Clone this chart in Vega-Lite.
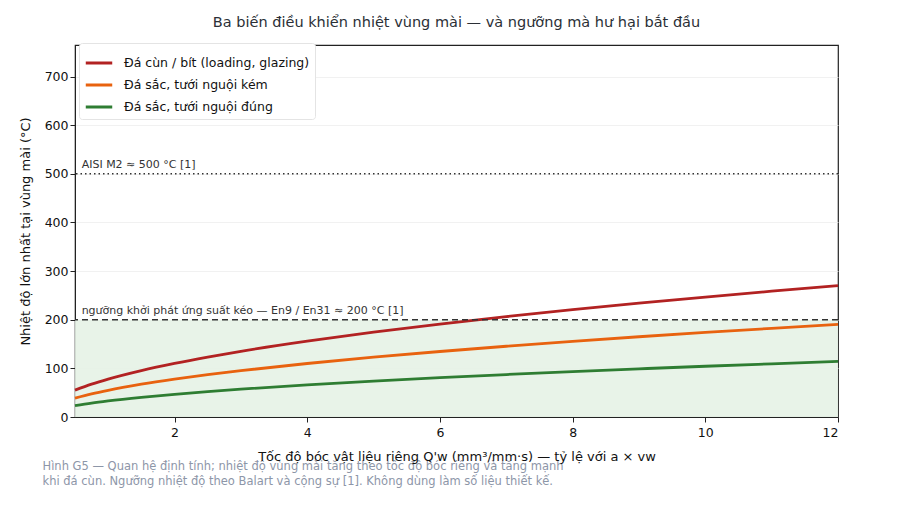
{
  "$schema": "https://vega.github.io/schema/vega-lite/v6.json",
  "autosize": "none",
  "width": 763,
  "height": 372,
  "padding": {"left": 75, "top": 45, "right": 69, "bottom": 93},
  "background": "white",
  "config": {
    "font": "DejaVu Sans",
    "view": {"stroke": "#222", "strokeWidth": 1.2},
    "axis": {"labelFont": "DejaVu Sans", "titleFont": "DejaVu Sans", "labelColor": "#111", "titleColor": "#111", "labelFontSize": 12.5, "titleFontSize": 13, "titleFontWeight": "normal", "tickColor": "#222", "domainColor": "#222", "gridColor": "#eeeeee", "gridWidth": 0.8}
  },
  "title": {"text": "Ba biến điều khiển nhiệt vùng mài — và ngưỡng mà hư hại bắt đầu", "fontSize": 14.5, "fontWeight": "normal", "color": "#2b2f36", "offset": 12, "anchor": "middle"},
  "datasets": {
    "curves": [
      {"q": 0.5, "t": 55.2, "s": "Đá cùn / bít (loading, glazing)"},
      {"q": 0.75, "t": 67.5, "s": "Đá cùn / bít (loading, glazing)"},
      {"q": 1, "t": 78, "s": "Đá cùn / bít (loading, glazing)"},
      {"q": 1.5, "t": 95.5, "s": "Đá cùn / bít (loading, glazing)"},
      {"q": 2, "t": 110.3, "s": "Đá cùn / bít (loading, glazing)"},
      {"q": 2.5, "t": 123.3, "s": "Đá cùn / bít (loading, glazing)"},
      {"q": 3, "t": 135.1, "s": "Đá cùn / bít (loading, glazing)"},
      {"q": 4, "t": 156, "s": "Đá cùn / bít (loading, glazing)"},
      {"q": 5, "t": 174.4, "s": "Đá cùn / bít (loading, glazing)"},
      {"q": 6, "t": 191.1, "s": "Đá cùn / bít (loading, glazing)"},
      {"q": 7, "t": 206.4, "s": "Đá cùn / bít (loading, glazing)"},
      {"q": 8, "t": 220.6, "s": "Đá cùn / bít (loading, glazing)"},
      {"q": 9, "t": 234, "s": "Đá cùn / bít (loading, glazing)"},
      {"q": 10, "t": 246.7, "s": "Đá cùn / bít (loading, glazing)"},
      {"q": 11, "t": 258.7, "s": "Đá cùn / bít (loading, glazing)"},
      {"q": 12, "t": 270.2, "s": "Đá cùn / bít (loading, glazing)"},
      {"q": 0.5, "t": 38.9, "s": "Đá sắc, tưới nguội kém"},
      {"q": 0.75, "t": 47.6, "s": "Đá sắc, tưới nguội kém"},
      {"q": 1, "t": 55, "s": "Đá sắc, tưới nguội kém"},
      {"q": 1.5, "t": 67.4, "s": "Đá sắc, tưới nguội kém"},
      {"q": 2, "t": 77.8, "s": "Đá sắc, tưới nguội kém"},
      {"q": 2.5, "t": 87.0, "s": "Đá sắc, tưới nguội kém"},
      {"q": 3, "t": 95.3, "s": "Đá sắc, tưới nguội kém"},
      {"q": 4, "t": 110, "s": "Đá sắc, tưới nguội kém"},
      {"q": 5, "t": 123.0, "s": "Đá sắc, tưới nguội kém"},
      {"q": 6, "t": 134.7, "s": "Đá sắc, tưới nguội kém"},
      {"q": 7, "t": 145.5, "s": "Đá sắc, tưới nguội kém"},
      {"q": 8, "t": 155.6, "s": "Đá sắc, tưới nguội kém"},
      {"q": 9, "t": 165, "s": "Đá sắc, tưới nguội kém"},
      {"q": 10, "t": 173.9, "s": "Đá sắc, tưới nguội kém"},
      {"q": 11, "t": 182.4, "s": "Đá sắc, tưới nguội kém"},
      {"q": 12, "t": 190.5, "s": "Đá sắc, tưới nguội kém"},
      {"q": 0.5, "t": 23.3, "s": "Đá sắc, tưới nguội đúng"},
      {"q": 0.75, "t": 28.6, "s": "Đá sắc, tưới nguội đúng"},
      {"q": 1, "t": 33, "s": "Đá sắc, tưới nguội đúng"},
      {"q": 1.5, "t": 40.4, "s": "Đá sắc, tưới nguội đúng"},
      {"q": 2, "t": 46.7, "s": "Đá sắc, tưới nguội đúng"},
      {"q": 2.5, "t": 52.2, "s": "Đá sắc, tưới nguội đúng"},
      {"q": 3, "t": 57.2, "s": "Đá sắc, tưới nguội đúng"},
      {"q": 4, "t": 66, "s": "Đá sắc, tưới nguội đúng"},
      {"q": 5, "t": 73.8, "s": "Đá sắc, tưới nguội đúng"},
      {"q": 6, "t": 80.8, "s": "Đá sắc, tưới nguội đúng"},
      {"q": 7, "t": 87.3, "s": "Đá sắc, tưới nguội đúng"},
      {"q": 8, "t": 93.3, "s": "Đá sắc, tưới nguội đúng"},
      {"q": 9, "t": 99, "s": "Đá sắc, tưới nguội đúng"},
      {"q": 10, "t": 104.4, "s": "Đá sắc, tưới nguội đúng"},
      {"q": 11, "t": 109.4, "s": "Đá sắc, tưới nguội đúng"},
      {"q": 12, "t": 114.3, "s": "Đá sắc, tưới nguội đúng"}
    ],
    "zone": [{"x0": 0.5, "x1": 12, "y0": 0, "y1": 200}],
    "limits": [
      {"q": 0.6, "t": 500, "label": "AISI M2 ≈ 500 °C [1]", "kind": "dotted"},
      {"q": 0.6, "t": 200, "label": "ngưỡng khởi phát ứng suất kéo — En9 / En31 ≈ 200 °C [1]", "kind": "dashed"}
    ]
  },
  "resolve": {"axis": {"x": "independent"}},
  "layer": [
    {
      "data": {"name": "zone"},
      "mark": {"type": "rect", "fill": "#e6f2e6", "opacity": 0.9},
      "encoding": {
        "x": {"field": "x0", "type": "quantitative", "scale": {"domain": [0.5, 12], "nice": false, "zero": false},
          "axis": {"orient": "bottom", "domain": false, "ticks": false, "labels": false, "grid": false,
            "title": ["Hình G5 — Quan hệ định tính; nhiệt độ vùng mài tăng theo tốc độ bóc riêng và tăng mạnh", "khi đá cùn. Ngưỡng nhiệt độ theo Balart và cộng sự [1]. Không dùng làm số liệu thiết kế."],
            "titleColor": "#8d96a8", "titleFontSize": 11.5, "titleAnchor": "start", "titleAlign": "left", "titleX": -33, "titleY": 43, "titleBaseline": "top", "titleLineHeight": 15}},
        "x2": {"field": "x1"},
        "y": {"field": "y0", "type": "quantitative"},
        "y2": {"field": "y1"}
      }
    },
    {
      "data": {"name": "curves"},
      "mark": {"type": "line", "strokeWidth": 2.8, "interpolate": "monotone"},
      "encoding": {
        "x": {"field": "q", "type": "quantitative", "scale": {"domain": [0.5, 12], "nice": false, "zero": false},
          "axis": {"orient": "bottom", "values": [2, 4, 6, 8, 10, 12], "title": "Tốc độ bóc vật liệu riêng Q'w (mm³/mm·s) — tỷ lệ với a × vw", "titlePadding": 12, "tickSize": 5, "labelPadding": 4}},
        "y": {"field": "t", "type": "quantitative", "scale": {"domain": [0, 765], "nice": false},
          "axis": {"values": [0, 100, 200, 300, 400, 500, 600, 700], "title": "Nhiệt độ lớn nhất tại vùng mài (°C)", "titlePadding": 12, "tickSize": 5}},
        "color": {"field": "s", "type": "nominal",
          "scale": {"domain": ["Đá cùn / bít (loading, glazing)", "Đá sắc, tưới nguội kém", "Đá sắc, tưới nguội đúng"], "range": ["#b22222", "#e8620f", "#2e7d32"]},
          "legend": {"title": null, "orient": "none", "legendX": 4, "legendY": -2, "symbolType": "stroke", "symbolStrokeWidth": 3, "symbolSize": 700, "labelFontSize": 12.5, "labelColor": "#111", "labelFont": "DejaVu Sans", "labelLimit": 0, "rowPadding": -1, "labelOffset": 10, "fillColor": "white", "strokeColor": "#e4e4e4", "cornerRadius": 3, "padding": 5, "symbolOffset": 0}
        }
      }
    },
    {
      "data": {"name": "limits"},
      "mark": {"type": "rule", "color": "#333", "strokeWidth": 1.5},
      "encoding": {
        "y": {"field": "t", "type": "quantitative"},
        "strokeDash": {"field": "kind", "type": "nominal", "scale": {"domain": ["dotted", "dashed"], "range": [[1.5, 3], [6, 4]]}, "legend": null}
      }
    },
    {
      "data": {"name": "limits"},
      "mark": {"type": "text", "align": "left", "baseline": "bottom", "dy": -4, "fontSize": 11, "color": "#333", "font": "DejaVu Sans"},
      "encoding": {
        "x": {"field": "q", "type": "quantitative", "axis": null},
        "y": {"field": "t", "type": "quantitative"},
        "text": {"field": "label"}
      }
    }
  ]
}
